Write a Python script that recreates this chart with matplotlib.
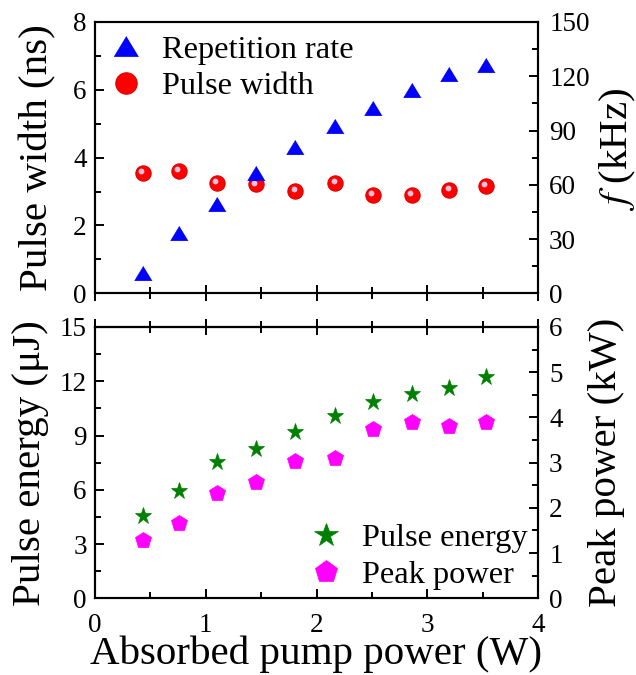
import matplotlib
matplotlib.use("Agg")
import matplotlib.pyplot as plt
import matplotlib.transforms as mtransforms
from matplotlib.ticker import MultipleLocator, NullFormatter

plt.rcParams['font.family'] = ['Liberation Serif', 'DejaVu Serif']
plt.rcParams['mathtext.fontset'] = 'stix'

# Data
pump = [0.43, 0.76, 1.10, 1.45, 1.81, 2.17, 2.51, 2.86, 3.20, 3.53]
rep_rate_khz = [11.5, 33.3, 49.5, 66.5, 80.9, 92.3, 102.3, 112.2, 121.4, 126.4]
pulse_width_ns = [3.56, 3.60, 3.25, 3.21, 3.03, 3.26, 2.90, 2.90, 3.05, 3.16]
pulse_energy_uj = [4.56, 5.96, 7.53, 8.26, 9.17, 10.09, 10.83, 11.29, 11.62, 12.23]
peak_power_kw = [1.29, 1.66, 2.32, 2.57, 3.03, 3.11, 3.74, 3.89, 3.81, 3.89]

TICK_FS = 19.5
LABEL_FS = 29.5
LEG_FS = 23.3

fig = plt.figure(figsize=(6.36, 6.75), dpi=100)
L, R = 95/636, 538/636
ax1 = fig.add_axes([L, 1-293.3/675, R-L, (293.3-22)/675])
ax2 = fig.add_axes([L, 1-598.3/675, R-L, (598.3-327)/675])
ax1r = ax1.twinx()
ax2r = ax2.twinx()

tri = [(0, 0.825), (-1, -0.825), (1, -0.825)]

# Top panel
ax1.plot(pump, pulse_width_ns, linestyle='none', marker='o', ms=11,
         color='#ff0000', mec='#e00000', mew=0.8, zorder=3)
hl = mtransforms.offset_copy(ax1.transData, fig=fig, x=-1.3, y=1.3, units='points')
ax1.plot(pump, pulse_width_ns, linestyle='none', marker='o', ms=4.2,
         color='#f0c0dc', mec='none', transform=hl, zorder=4)
ax1r.plot(pump, rep_rate_khz, linestyle='none', marker=tri, ms=12.5,
          color='#0000ff', mec='#0000ff', mew=0.5, zorder=3)

ax1.set_xlim(0, 4)
ax1.set_ylim(0, 8)
ax1r.set_ylim(0, 150)
ax1.yaxis.set_major_locator(MultipleLocator(2))
ax1.yaxis.set_minor_locator(MultipleLocator(1))
ax1r.yaxis.set_major_locator(MultipleLocator(30))
ax1r.yaxis.set_minor_locator(MultipleLocator(15))

# Bottom panel
ax2.plot(pump, pulse_energy_uj, linestyle='none', marker='*', ms=12.5,
         color='#008000', mec='#008000', mew=0.5, zorder=3)
ax2r.plot(pump, peak_power_kw, linestyle='none', marker='p', ms=12,
          color='#ff00ff', mec='#ff00ff', mew=0.5, zorder=3)
ax2.set_xlim(0, 4)
ax2.set_ylim(0, 15)
ax2r.set_ylim(0, 6)
ax2.yaxis.set_major_locator(MultipleLocator(3))
ax2.yaxis.set_minor_locator(MultipleLocator(1.5))
ax2r.yaxis.set_major_locator(MultipleLocator(1))
ax2r.yaxis.set_minor_locator(MultipleLocator(0.5))

for ax in (ax1, ax2):
    ax.xaxis.set_major_locator(MultipleLocator(1))
    ax.xaxis.set_minor_locator(MultipleLocator(0.5))

for ax in (ax1, ax2, ax1r, ax2r):
    for s in ax.spines.values():
        s.set_linewidth(1.5)
    ax.tick_params(which='both', width=1.4, labelsize=TICK_FS, direction='in')
    ax.tick_params(which='major', length=6.5)
    ax.tick_params(which='minor', length=4)

ax1.tick_params(axis='x', which='both', bottom=True, top=False,
                labelbottom=False, direction='inout')
ax1.tick_params(axis='x', which='major', length=12)
ax1.tick_params(axis='x', which='minor', length=8)
ax2.tick_params(axis='x', which='both', bottom=True, top=False,
                labelbottom=True, pad=10.5)
ax1.tick_params(axis='y', which='both', left=True, right=False, pad=6)
ax2.tick_params(axis='y', which='both', left=True, right=False, pad=6)
ax1r.tick_params(axis='y', which='both', pad=8)
ax2r.tick_params(axis='y', which='both', pad=8)

# Top ticks of lower panel crossing the spine
sec = ax2.secondary_xaxis('top')
sec.xaxis.set_major_locator(MultipleLocator(1))
sec.xaxis.set_minor_locator(MultipleLocator(0.5))
sec.xaxis.set_major_formatter(NullFormatter())
sec.spines['top'].set_linewidth(1.5)
sec.tick_params(which='both', direction='inout', width=1.4)
sec.tick_params(which='major', length=12)
sec.tick_params(which='minor', length=8)

ax1.set_ylabel('Pulse width (ns)', fontsize=LABEL_FS)
ax1.yaxis.set_label_coords(-0.088, 0.5)
ax1r.set_ylabel(r'$f$ (kHz)', fontsize=LABEL_FS, rotation=90)
ax1r.yaxis.set_label_coords(1.134, 0.53)
ax2.set_ylabel('Pulse energy (μJ)', fontsize=LABEL_FS)
ax2.yaxis.set_label_coords(-0.104, 0.5)
ax2r.set_ylabel('Peak power (kW)', fontsize=LABEL_FS, rotation=90)
ax2r.yaxis.set_label_coords(1.113, 0.5)
ax2.set_xlabel('Absorbed pump power (W)', fontsize=LABEL_FS)
ax2.xaxis.set_label_coords(0.5, -0.138)

# Legends
h_rep = ax1r.lines[0]
h_pw = ax1.lines[0]
ax1r.legend([h_rep, h_pw], ['Repetition rate', 'Pulse width'],
            loc='upper left', frameon=False, fontsize=LEG_FS,
            handlelength=1.0, handletextpad=0.62, labelspacing=0.22,
            borderpad=0, borderaxespad=0, markerscale=1.4,
            bbox_to_anchor=(0.034, 0.952))
h_en = ax2.lines[0]
h_pp = ax2r.lines[0]
ax2r.legend([h_en, h_pp], ['Pulse energy', 'Peak power'],
            loc='lower right', frameon=False, fontsize=LEG_FS,
            handlelength=1.0, handletextpad=0.62, labelspacing=0.22,
            borderpad=0, borderaxespad=0, markerscale=1.4,
            bbox_to_anchor=(0.977, 0.031))

fig.savefig('out.png', dpi=100)
